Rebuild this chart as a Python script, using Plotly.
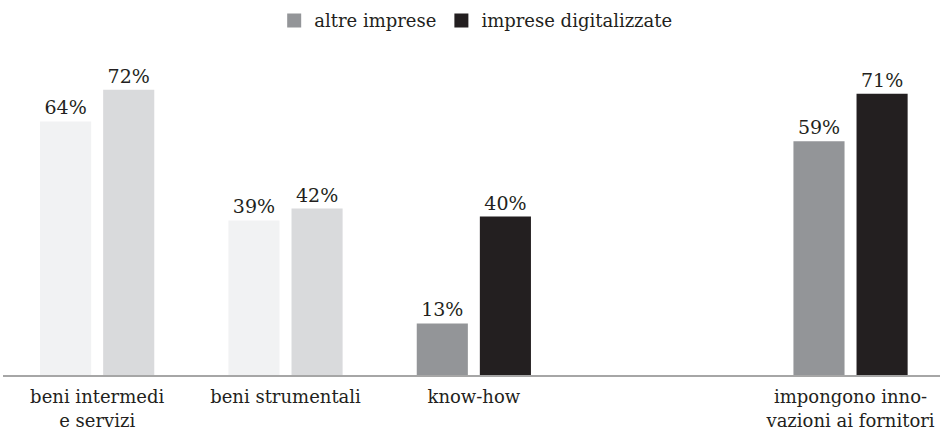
import plotly.graph_objects as go

# Category positions (slot 3 is intentionally left empty)
positions = [0, 1, 2, 4]
categories = ["beni intermedi<br>e servizi", "beni strumentali", "know-how",
              "impongono inno-<br>vazioni ai fornitori"]

series_names = ["altre imprese", "imprese digitalizzate"]
altre_imprese = [64, 39, 13, 59]
imprese_digitalizzate = [72, 42, 40, 71]

altre_colors = ["#f1f2f3", "#f1f2f3", "#939598", "#939598"]
digit_colors = ["#d9dadc", "#d9dadc", "#231f20", "#231f20"]
legend_colors = ["#939598", "#231f20"]

FONT = "DejaVu Serif"
TXT = "#231f20"

fig = go.Figure()
for name, vals, cols in [(series_names[0], altre_imprese, altre_colors),
                         (series_names[1], imprese_digitalizzate, digit_colors)]:
    fig.add_trace(go.Bar(
        name=name, x=positions, y=vals, showlegend=False,
        marker=dict(color=cols, line=dict(width=0)),
        text=[f"{v}%" for v in vals], textposition="outside",
        textfont=dict(family=FONT, size=19, color=TXT), cliponaxis=False,
    ))

# legend entries with square swatches
for name, col in zip(series_names, legend_colors):
    fig.add_trace(go.Scatter(
        name=name, x=[None], y=[None], mode="markers",
        marker=dict(symbol="square", size=14, color=col),
    ))

fig.update_layout(
    width=940, height=441,
    margin=dict(l=3, r=0, t=60, b=66),
    paper_bgcolor="white", plot_bgcolor="white",
    barmode="group", bargap=0.33, bargroupgap=0.19,
    font=dict(family=FONT, size=18, color=TXT),
    showlegend=True,
    legend=dict(orientation="h", x=0.505, xanchor="center", y=0.995, yanchor="top",
                yref="container", font=dict(family=FONT, size=18, color=TXT),
                itemwidth=30, traceorder="normal", tracegroupgap=0),
    xaxis=dict(range=[-0.5, 4.475], tickmode="array", tickvals=positions,
               ticktext=categories, showgrid=False, zeroline=False,
               showline=True, linecolor="#a6a6a6", linewidth=1.5,
               ticks="", ticklabeloverflow="allow", ticklabelstandoff=5,
               tickfont=dict(family=FONT, size=18, color=TXT)),
    yaxis=dict(range=[0, 79.5], visible=False, showgrid=False, zeroline=False),
)

fig.write_html("out.html")
